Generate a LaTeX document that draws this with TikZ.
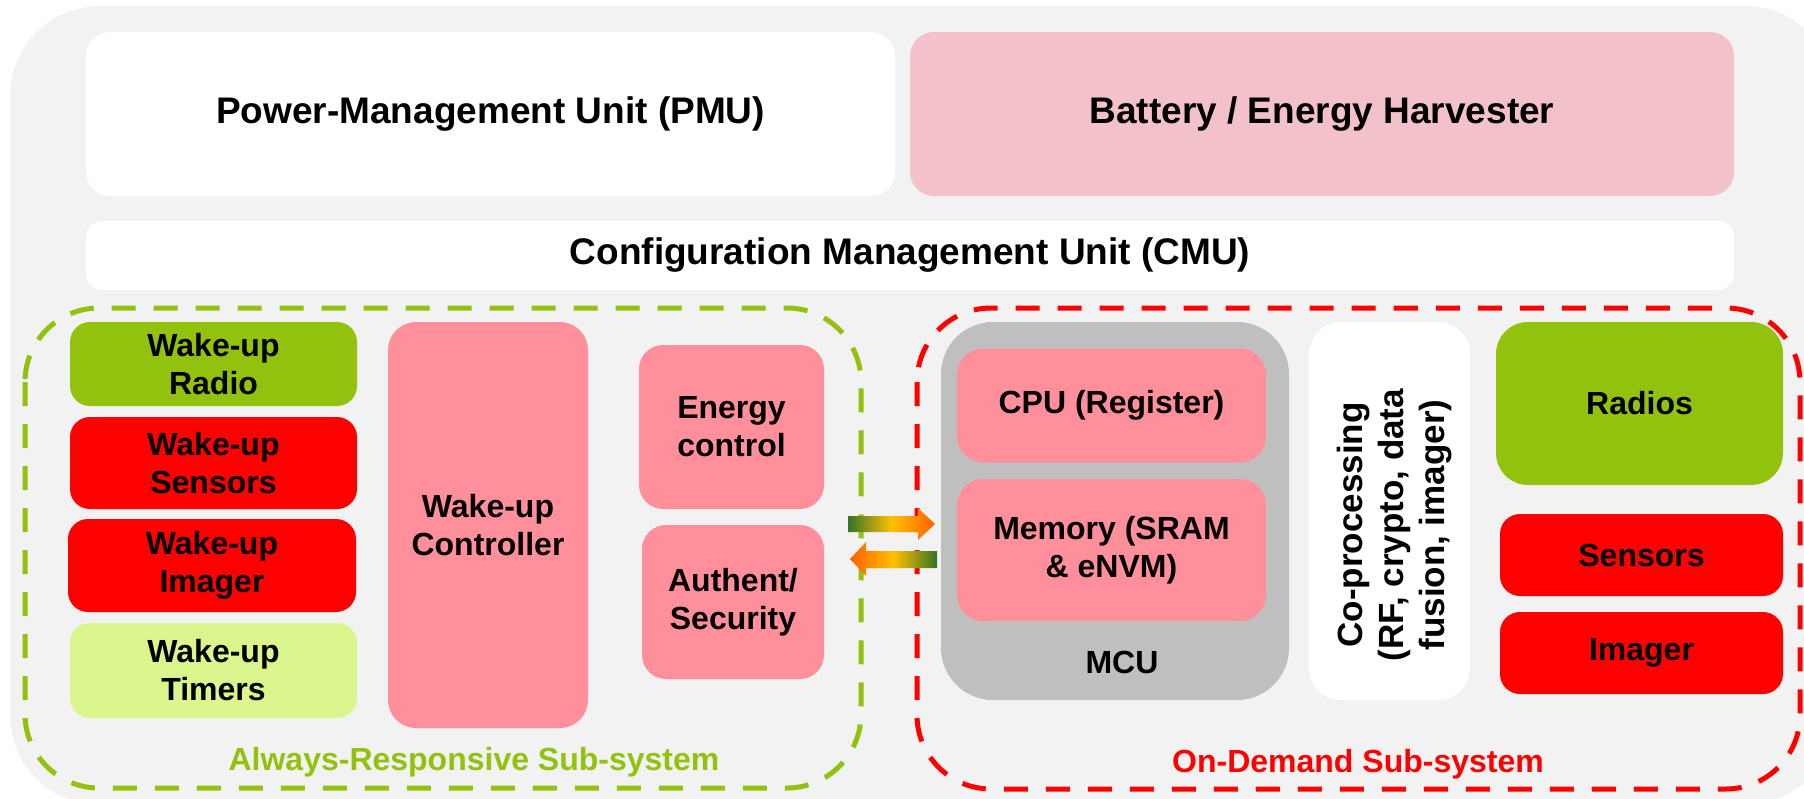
\documentclass[tikz,border=0pt]{standalone}
\usepackage{fontspec}
\setmainfont{Liberation Sans}
\usetikzlibrary{positioning}

\definecolor{bggrey}{HTML}{F2F2F2}
\definecolor{battpink}{HTML}{F2C1CA}
\definecolor{blockpink}{HTML}{FF8F9B}
\definecolor{leafgreen}{HTML}{92C20E}
\definecolor{palegreen}{HTML}{D9F58B}
\definecolor{mcugrey}{HTML}{BFBFBF}
\definecolor{flowgreen}{HTML}{1E6B2C}
\definecolor{flowamber}{HTML}{FFC000}

% green -> amber -> red flow for the block arrows
\pgfdeclarehorizontalshading{flowshade}{100bp}{color(0bp)=(white); color(6bp)=(white!50!flowgreen); color(22bp)=(flowgreen); color(50bp)=(flowamber); color(100bp)=(red)}

\tikzset{
  blk/.style={rounded corners=10pt, inner sep=0pt, align=center,
    font=\bfseries\fontsize{16}{19}\selectfont},
  headblk/.style={blk, rounded corners=12pt,
    font=\bfseries\fontsize{18.5}{22}\selectfont},
  zone/.style={line width=2.5pt, dash pattern=on 12pt off 9pt, rounded corners=37pt},
  zonelbl/.style={anchor=base, font=\bfseries\fontsize{16}{19}\selectfont},
}

\begin{document}
\begin{tikzpicture}[x=0.5pt,y=-0.5pt]
\useasboundingbox (0,0) rectangle (1804,798);
\fill[bggrey, rounded corners=45pt] (10,6) rectangle (1835,805);

% supply and configuration
\node[headblk, fill=white, minimum width=404.5pt, minimum height=82pt] (pmu) at (490.5,114) {Power-Management Unit (PMU)};
\node[headblk, fill=battpink, minimum width=412pt, minimum height=82pt] (batt) at (1322,114) {Battery / Energy Harvester};
\node[headblk, rounded corners=8pt, fill=white, minimum width=824pt, minimum height=34.5pt] (cmu) at (910,255.5) {Configuration Management Unit (CMU)};

% sub-system outlines
\draw[zone, leafgreen] (25,308) rectangle (861,788);
\draw[zone, red] (917,308) rectangle (1800,789);
\node[zonelbl, text=leafgreen] (arlbl) at (474,770) {Always-Responsive Sub-system};
\node[zonelbl, text=red] (odlbl) at (1358,772) {On-Demand Sub-system};

% always-responsive side
\node[blk, fill=leafgreen, minimum width=143.5pt, minimum height=42pt] (wuradio) at (213.5,364) {Wake-up\\Radio};
\node[blk, fill=red, minimum width=143.5pt, minimum height=46pt] (wusens) at (213.5,463) {Wake-up\\Sensors};
\node[blk, fill=red, minimum width=144pt, minimum height=46.5pt] (wuimg) at (212,565.5) {Wake-up\\Imager};
\node[blk, fill=palegreen, minimum width=143.5pt, minimum height=47.5pt] (wutim) at (213.5,670.5) {Wake-up\\Timers};
\node[blk, rounded corners=14pt, fill=blockpink, minimum width=100pt, minimum height=203pt] (wuctrl) at (488,525) {Wake-up\\Controller};
\node[blk, rounded corners=12pt, fill=blockpink, minimum width=92.5pt, minimum height=82pt] (energy) at (731.5,427) {Energy\\control};
\node[blk, rounded corners=12pt, fill=blockpink, minimum width=91pt, minimum height=77pt] (auth) at (733,602) {Authent/\\Security};

% on-demand side
\node[blk, rounded corners=26pt, fill=mcugrey, minimum width=174pt, minimum height=189pt] (mcu) at (1115,511) {};
\node[blk, rounded corners=13pt, fill=blockpink, minimum width=154.5pt, minimum height=57pt] (cpu) at (1111.5,405.5) {CPU (Register)};
\node[blk, rounded corners=13pt, fill=blockpink, minimum width=154.5pt, minimum height=71pt] (mem) at (1111.5,550) {Memory (SRAM\\\& eNVM)};
\node[blk] (mcutxt) at (1122,662) {MCU};
\node[blk, rounded corners=16pt, fill=white, minimum width=80.5pt, minimum height=189pt] (coproc) at (1389.5,511) {};
\node[blk, rotate=90, font=\bfseries\fontsize{17.5}{20.5}\selectfont] (coproctxt) at (1395,525) {Co-processing\\(RF, crypto, data\\fusion, imager)};
\node[blk, rounded corners=16pt, fill=leafgreen, minimum width=143.5pt, minimum height=81.5pt] (radios) at (1639.5,403.5) {Radios};
\node[blk, fill=red, minimum width=141.5pt, minimum height=41pt] (sens) at (1641.5,555) {Sensors};
\node[blk, fill=red, minimum width=141.5pt, minimum height=41pt] (img) at (1641.5,653) {Imager};

% block arrows between the two sides
\shade[shading=flowshade] (848,516) -- (918,516) -- (918,508) -- (935,524) -- (918,540) -- (918,532) -- (848,532) -- cycle;
\shade[shading=flowshade, shading angle=180] (937,551) -- (866,551) -- (866,542) -- (850,559) -- (866,576) -- (866,568) -- (937,568) -- cycle;
\end{tikzpicture}
\end{document}
